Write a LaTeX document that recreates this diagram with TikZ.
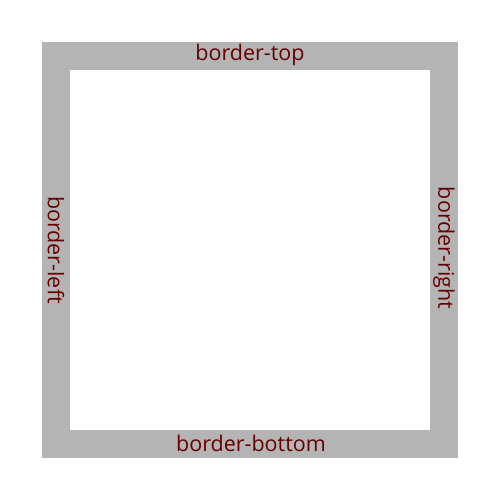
\documentclass[tikz,border=0pt]{standalone}
\usepackage{fontspec}
\setmainfont{Open Sans}
\definecolor{bordergray}{RGB}{180,180,180}
\definecolor{labelred}{RGB}{102,0,0}
\begin{document}
\begin{tikzpicture}[x=1pt,y=-1pt,
  lbl/.style={text=labelred,font=\fontsize{21.5}{24}\selectfont,inner sep=0pt,anchor=center}]
\useasboundingbox (0,0) rectangle (500,500);
\fill[bordergray] (42,42) rectangle (458,458);
\fill[white] (70,70) rectangle (430,430);
\node[lbl] (top) at (250,55) {border-top};
\node[lbl] (bottom) at (251,443) {border-bottom};
\node[lbl,rotate=-90] (left) at (56,250) {border-left};
\node[lbl,rotate=-90] (right) at (444,248) {border-right};
\end{tikzpicture}
\end{document}
